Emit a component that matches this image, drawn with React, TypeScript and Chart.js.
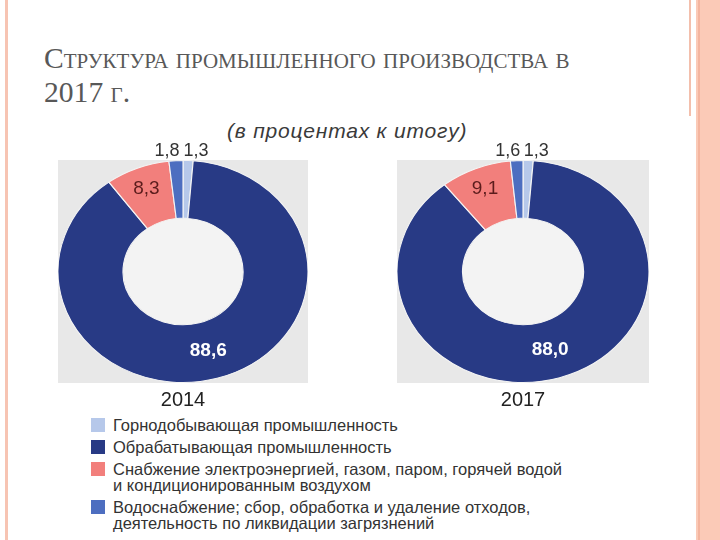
import React, { useEffect, useRef } from "react";
import { Chart, registerables } from "chart.js";

Chart.register(...registerables);

// ---- data ----
const categories = [
  "Горнодобывающая промышленность",
  "Обрабатывающая промышленность",
  "Снабжение электроэнергией, газом, паром, горячей водой и кондиционированным воздухом",
  "Водоснабжение; сбор, обработка и удаление отходов, деятельность по ликвидации загрязнений",
];
const legendLines = [
  ["Горнодобывающая промышленность"],
  ["Обрабатывающая промышленность"],
  ["Снабжение электроэнергией, газом, паром, горячей водой", "и кондиционированным воздухом"],
  ["Водоснабжение; сбор, обработка и удаление отходов,", "деятельность по ликвидации загрязнений"],
];
const values2014 = [1.3, 88.6, 8.3, 1.8];
const values2017 = [1.3, 88.0, 9.1, 1.6];
const years = ["2014", "2017"];
const colors = ["#b6c8ea", "#283a85", "#f27f7c", "#4d6ec0"];
const labelColors = ["#333333", "#ffffff", "#5b1c1c", "#333333"];
const titleLine1 = "Структура промышленного производства в";
const titleLine2 = "2017 г.";
const subtitle = "(в процентах к итогу)";

const BG = "#e8e8e8";
const HOLE = "#f3f3f3";
const FONT = "'Liberation Sans', Arial, sans-serif";

const fmt = (v: number) => v.toFixed(1).replace(".", ",");

const ellipsePlugin = {
  id: "ellipseDonut",
  beforeDraw(chart: any) {
    const { ctx, chartArea: a } = chart;
    ctx.save();
    ctx.fillStyle = BG;
    ctx.fillRect(a.left, a.top, a.right - a.left, a.bottom - a.top);
    ctx.restore();
  },
  beforeDatasetsDraw(chart: any) {
    const { ctx, chartArea: a } = chart;
    const arc = chart.getDatasetMeta(0).data[0];
    const { x, y, outerRadius, innerRadius } = arc.getProps(["x", "y", "outerRadius", "innerRadius"], true);
    const sx = (a.right - a.left) / 2 / outerRadius;
    ctx.save();
    ctx.translate(x, y);
    ctx.scale(sx, 1);
    ctx.translate(-x, -y);
    ctx.beginPath();
    ctx.arc(x, y, innerRadius, 0, Math.PI * 2);
    ctx.fillStyle = HOLE;
    ctx.fill();
  },
  afterDatasetsDraw(chart: any) {
    const { ctx, chartArea: a } = chart;
    ctx.restore();
    const meta = chart.getDatasetMeta(0);
    const data = chart.data.datasets[0].data as number[];
    ctx.save();
    ctx.textAlign = "center";
    ctx.textBaseline = "middle";
    meta.data.forEach((el: any, i: number) => {
      const p = el.getProps(["x", "y", "startAngle", "endAngle", "outerRadius", "innerRadius"], true);
      const sx = (a.right - a.left) / 2 / p.outerRadius;
      const mid = (p.startAngle + p.endAngle) / 2;
      const v = data[i];
      let lx: number, ly: number;
      if (v < 3) {
        const c = Math.cos(mid);
        lx = p.x + c * p.outerRadius * sx + (c >= 0 ? 8 : -9);
        ly = a.top - 9;
        ctx.fillStyle = "#333333";
        ctx.font = `18px ${FONT}`;
      } else {
        const r = v > 50 ? (p.outerRadius + p.innerRadius) / 2 : p.outerRadius * 0.8;
        lx = p.x + Math.cos(mid) * r * sx;
        ly = p.y + Math.sin(mid) * r;
        ctx.fillStyle = labelColors[i];
        ctx.font = v > 50 ? `bold 19px ${FONT}` : `19px ${FONT}`;
      }
      ctx.fillText(fmt(v), lx, ly);
    });
    const title = chart.options.plugins.yearLabel as string;
    ctx.fillStyle = "#222222";
    ctx.font = `20px ${FONT}`;
    ctx.fillText(title, (a.left + a.right) / 2, a.bottom + 17);
    ctx.restore();
  },
};

function Donut({ values, year }: { values: number[]; year: string }) {
  const ref = useRef<HTMLCanvasElement>(null);
  useEffect(() => {
    if (!ref.current) return;
    const chart = new Chart(ref.current, {
      type: "doughnut",
      data: {
        labels: categories,
        datasets: [
          {
            data: values,
            backgroundColor: colors,
            borderColor: "#f4f4f4",
            borderWidth: 1,
          },
        ],
      },
      options: {
        animation: false,
        responsive: true,
        maintainAspectRatio: false,
        rotation: 0,
        cutout: "48%",
        layout: { padding: { top: 20, bottom: 29, left: 0, right: 0 } },
        plugins: {
          legend: { display: false },
          tooltip: { enabled: false },
          // @ts-ignore
          yearLabel: year,
        },
      } as any,
      plugins: [ellipsePlugin as any],
    });
    return () => chart.destroy();
  }, [values, year]);
  return <canvas ref={ref} />;
}

export default function App() {
  return (
    <div
      style={{
        position: "fixed",
        left: 0,
        top: 0,
        width: 720,
        height: 540,
        background: "#ffffff",
        overflow: "hidden",
      }}
    >
      {/* decorative lines */}
      <div style={{ position: "absolute", left: 5, top: 0, width: 3, height: 540, background: "#f7c4b3" }} />
      <div style={{ position: "absolute", left: 689, top: 0, width: 2, height: 116, background: "#f3bfac" }} />
      <div style={{ position: "absolute", left: 696, top: 0, width: 24, height: 540, background: "#fbcab7" }} />
      <div style={{ position: "absolute", left: 698, top: 0, width: 2, height: 540, background: "#f4b59f" }} />

      {/* title */}
      <div
        style={{
          position: "absolute",
          left: 44,
          top: 41,
          fontFamily: "'Liberation Serif', 'Times New Roman', serif",
          fontSize: 29.6,
          lineHeight: "34px",
          fontVariant: "small-caps",
          color: "#585858",
          whiteSpace: "nowrap",
        }}
      >
        {titleLine1}
        <br />
        {titleLine2}
      </div>

      {/* subtitle */}
      <div
        style={{
          position: "absolute",
          left: 227,
          top: 119,
          fontFamily: FONT,
          fontStyle: "italic",
          fontSize: 21,
          letterSpacing: 0.8,
          lineHeight: "24px",
          color: "#3a3a3a",
          whiteSpace: "nowrap",
        }}
      >
        {subtitle}
      </div>

      {/* charts */}
      <div style={{ position: "absolute", left: 58, top: 140, width: 250, height: 272 }}>
        <Donut values={values2014} year={years[0]} />
      </div>
      <div style={{ position: "absolute", left: 397, top: 140, width: 252, height: 272 }}>
        <Donut values={values2017} year={years[1]} />
      </div>

      {/* legend */}
      <div
        style={{
          position: "absolute",
          left: 91,
          top: 417,
          display: "flex",
          flexDirection: "column",
          gap: 6,
          fontFamily: FONT,
          fontSize: 16.5,
          lineHeight: "16px",
          color: "#333333",
        }}
      >
        {legendLines.map((lines, i) => (
          <div key={i} style={{ display: "flex", alignItems: "flex-start" }}>
            <div
              style={{
                width: 14,
                height: 14,
                marginTop: 1,
                background: colors[i],
                flex: "0 0 auto",
              }}
            />
            <div style={{ marginLeft: 8, whiteSpace: "nowrap" }}>
              {lines.map((l, j) => (
                <div key={j}>{l}</div>
              ))}
            </div>
          </div>
        ))}
      </div>
    </div>
  );
}
